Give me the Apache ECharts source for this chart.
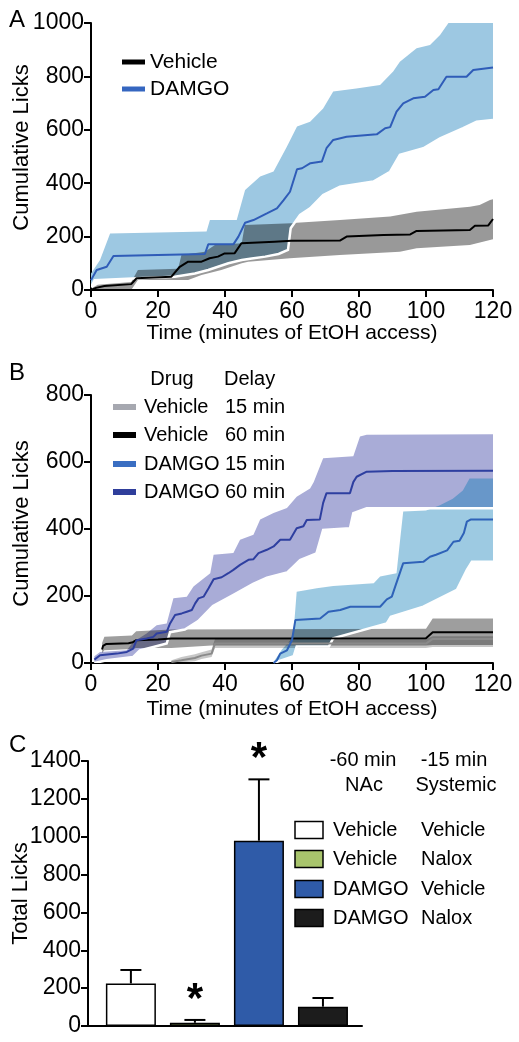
<!DOCTYPE html>
<html><head><meta charset="utf-8">
<script src="https://cdn.jsdelivr.net/npm/echarts@6/dist/echarts.min.js"></script>
<style>html,body{margin:0;padding:0;background:#fff}#c{width:519px;height:1042px}</style>
</head><body><div id="c"></div>
<script>
// ---------- Panel A (time in minutes, cumulative licks) ----------
const aDamgoMean = [[0,37],[1.7,75],[4.7,87],[6.7,127],[20,131],[34,135],[35,171],[42.5,171],[44,200],[46,252],[48.5,262],[52.5,287],[55.5,306],[57.5,337],[59.4,368],[61.5,452],[63,456],[65.5,475],[68.9,481],[70.3,531],[72.3,562],[76.3,574],[85.3,583],[87.8,606],[89.3,610],[91.2,668],[93.2,699],[96.2,718],[99.7,724],[102.2,749],[103.7,752],[106.1,799],[112.1,799],[114.1,824],[120,833]];
const aDamgoUpper = [[0,62],[2.7,112],[5.7,212],[34.5,219],[35.5,262],[43.5,262],[46,375],[50.5,425],[54.5,444],[58.5,537],[61.5,612],[65.4,630],[69.3,680],[72.3,743],[79.2,755],[86.3,768],[90.2,818],[92.2,855],[97.2,905],[101.2,918],[104.2,955],[106.7,1000],[120,1000]];
const aDamgoLower = [[0,10],[1.1,37],[14,44],[25,50],[31,62],[35,75],[41,100],[45,112],[48,118],[52,125],[56,135],[58.8,150],[59.6,231],[62.4,281],[65.4,306],[69.3,356],[74.3,387],[84.3,406],[89.3,443],[92.2,506],[99.2,531],[104.2,568],[111.1,606],[115.1,630],[120,637]];
const aVehMean = [[0,0],[1.5,8],[4,15],[12,22],[13.6,44],[24,50],[26.5,87],[29,106],[33,106],[35.4,119],[37.9,125],[39.9,137],[42.9,138],[44.9,175],[54.8,181],[59.8,184],[74.3,185],[76.3,200],[87.3,206],[95.3,208],[97.2,221],[113.1,225],[114.6,241],[118.6,242],[120,266]];
const aVehUpper = [[0,5],[2,20],[12,30],[14,75],[26,80],[27,131],[34,143],[37,169],[45,175],[45.9,243],[59.8,250],[61.4,252],[74.3,262],[89.3,275],[97.2,293],[113.1,312],[116,318],[119.1,337],[120,340]];
const aVehLower = [[0,0],[12,0],[14,37],[29,37],[33,56],[38.9,75],[45,100],[46.9,106],[59.4,119],[74.3,131],[92.2,143],[97.2,156],[113.1,169],[119.1,187],[120,190]];

// ---------- Panel B ----------
const bD60Mean = [[1,10],[2.7,23],[7.7,28],[10.7,33],[12.6,43],[13.6,68],[16.6,73],[18.6,78],[19.6,88],[22.6,93],[23.6,118],[25.1,143],[27.1,148],[28.6,153],[30.1,158],[31.1,178],[32.1,193],[33.6,198],[35.1,223],[36.6,250],[39,256],[41,268],[42.5,278],[44.5,293],[47,308],[48.5,310],[50,328],[52.5,338],[54.5,348],[56.5,368],[59.4,368],[61.4,402],[63.4,408],[64.4,427],[68.3,428],[69.3,478],[70.3,507],[77.3,507],[78.3,540],[79.3,556],[82.3,571],[90,573],[120,574]];
const bD60Upper = [[1,20],[2.7,33],[10.7,38],[12.6,63],[16.6,88],[19.6,113],[22.6,118],[24.6,193],[28.6,198],[30.6,228],[35.6,268],[36.6,323],[42.5,328],[44.5,368],[48.5,383],[50.5,428],[54.5,448],[58.5,463],[61.4,496],[65.4,521],[66.5,540],[69.3,611],[78.3,617],[80.3,676],[82.3,681],[120,683]];
const bD60Lower = [[1,0],[4.7,8],[12.6,18],[14.6,38],[18.6,48],[22.6,58],[23.6,92],[28,100],[32,125],[36.4,170],[42.4,203],[48.4,236],[52.5,255],[58.5,270],[60.3,287],[62.4,307],[67.3,327],[69.3,397],[77.3,402],[78.3,447],[82.3,462],[120,462]];
const bD15Mean = [[54.5,0],[55.5,8],[56.5,28],[58.5,38],[60,68],[61,128],[68.4,133],[70.9,153],[74.4,158],[77.4,168],[86.3,168],[88.3,190],[89.8,198],[90.8,228],[93.2,298],[99.2,302],[101.2,317],[103,323],[106.3,336],[108.2,362],[110,365],[111.3,388],[112.2,422],[113.3,428],[120,428]];
const bD15Upper = [[54.5,3],[57,40],[59.5,68],[60.5,98],[61.4,213],[67.4,223],[72.3,230],[84.4,238],[86.3,258],[91.2,268],[92.3,370],[93.2,452],[100,455],[104,470],[108,490],[111,515],[113,551],[120,551]];
const bD15Lower = [[54.5,0],[60.5,20],[61.4,49],[71,49],[72.3,74],[88.3,118],[89.5,138],[99.2,168],[109.2,218],[112.2,278],[113.7,302],[120,302]];
const bV60Mean = [[3.3,40],[3.6,51],[4.6,57],[11.2,59],[12.5,62],[13.5,68],[20,70],[24,73],[100,74],[102,92],[120,92]];
const bV60Upper = [[3.3,60],[4,78],[12.2,82],[13.5,95],[24,100],[100,102],[102,133],[120,133]];
const bV60Lower = [[3.3,30],[4,38],[12.2,42],[13.5,45],[24,45],[36,52],[100,52],[102,54],[120,54]];
const bV15Mean = [[24,3],[27,8],[31,15],[33,22],[36,28],[37,58],[100,58],[102,72],[120,72]];
const bV15Upper = [[24,8],[27,18],[31,26],[33,32],[36,40],[37,72],[100,72],[102,80],[120,80]];
const bV15Lower = [[24,0],[27,2],[31,5],[33,12],[36,18],[37,45],[100,45],[102,48],[120,48]];

// ---------- Panel C ----------
const cGroups = ['Vehicle / Vehicle','Vehicle / Nalox','DAMGO / Vehicle','DAMGO / Nalox'];
const cPos = [1,2,3,4];
const cMeans = [225,17,979,102];
const cErrTop = [296,32,1303,148];
const cSig = [false,true,true,false];

const cColors = ['#ffffff','#a8c46c','#2f5ba8','#1c1c1c'];
const FONT = 'Liberation Sans, Arial, Helvetica, sans-serif';

function band(xi, upper, lower, fill, z){
  return {type:'custom', xAxisIndex:xi, yAxisIndex:xi, data:[[0,0]], z:z, clip:true, silent:true,
    renderItem:function(params, api){
      const pts = upper.map(p=>api.coord(p)).concat(lower.slice().reverse().map(p=>api.coord(p)));
      return {type:'polygon', shape:{points:pts}, style:{fill:fill}};
    }};
}
function edge(xi, pts, z){
  return {type:'custom', xAxisIndex:xi, yAxisIndex:xi, data:[[0,0]], z:z, clip:true, silent:true,
    renderItem:function(params, api){
      return {type:'polyline', shape:{points:pts.map(p=>api.coord(p))}, style:{stroke:'#fff', lineWidth:2.5, fill:null}};
    }};
}
function line(xi, data, color, z){
  return {type:'line', xAxisIndex:xi, yAxisIndex:xi, data:data, showSymbol:false, z:z, silent:true,
    lineStyle:{color:color, width:2}, itemStyle:{color:color}, animation:false};
}
function yAx(gi, max, name, pad, gap){
  return {type:'value', gridIndex:gi, min:0, max:max, interval:200,
    name:name, nameLocation:'middle', nameGap:gap, nameMoveOverlap:false,
    nameTextStyle:{fontSize:22, color:'#000', fontFamily:FONT, padding:[0,0,0,pad]},
    axisLine:{show:true, lineStyle:{color:'#000', width:2}},
    axisTick:{show:true, length:7, lineStyle:{color:'#000', width:2}},
    axisLabel:{fontSize:23, color:'#000', margin:7, fontFamily:FONT, formatter:v=>String(v)},
    splitLine:{show:false}};
}
function xAx(gi, gap){
  return {type:'value', gridIndex:gi, min:0, max:120, interval:20,
    name:'Time (minutes of EtOH access)', nameLocation:'middle', nameGap:gap, nameMoveOverlap:false,
    nameTextStyle:{fontSize:21, color:'#000', fontFamily:FONT},
    axisLine:{show:true, onZero:false, lineStyle:{color:'#000', width:2}},
    axisTick:{show:true, length:7, lineStyle:{color:'#000', width:2}},
    axisLabel:{fontSize:23, color:'#000', margin:10, fontFamily:FONT, formatter:v=>String(v)},
    splitLine:{show:false}};
}
function txt(x,y,s,opt){
  return {type:'text', x:x, y:y, style:Object.assign({text:s, fill:'#000', font:'20px '+FONT, textVerticalAlign:'middle'}, opt||{})};
}
function rect(x,y,w,h,fill,stroke){
  return {type:'rect', shape:{x:x,y:y,width:w,height:h}, style:{fill:fill, stroke:stroke||null, lineWidth:stroke?1.5:0}};
}

const chart = echarts.init(document.getElementById('c'), null, {renderer:'canvas'});
const graphics = [
  txt(9,20,'A',{font:'24px '+FONT}), txt(9,373,'B',{font:'24px '+FONT}), txt(9,745,'C',{font:'24px '+FONT}),
  rect(122,59.5,23,5,'#000'), txt(150,62,'Vehicle',{font:'21px '+FONT}),
  rect(122,86.5,23,5,'#3566c0'), txt(150,89,'DAMGO',{font:'21px '+FONT}),
  txt(172,379,'Drug',{textAlign:'center'}), txt(224,379,'Delay'),
  rect(113,404,23,6,'#a6a8b0'), txt(144,407,'Vehicle'), txt(225,407,'15 min'),
  rect(113,432,23,6,'#000'), txt(144,435,'Vehicle'), txt(225,435,'60 min'),
  rect(113,461,23,6,'#3a6ec2'), txt(144,464,'DAMGO'), txt(225,464,'15 min'),
  rect(113,489,23,6,'#2f3e9b'), txt(144,492,'DAMGO'), txt(225,492,'60 min'),
  txt(363,760,'-60 min',{textAlign:'center'}), txt(364,785,'NAc',{textAlign:'center'}),
  txt(454,760,'-15 min',{textAlign:'center'}), txt(456,785,'Systemic',{textAlign:'center'}),
  rect(295,821.5,28,17,cColors[0],'#000'), txt(333,830,'Vehicle'), txt(421,830,'Vehicle'),
  rect(295,850.5,28,17,cColors[1],'#000'), txt(333,859,'Vehicle'), txt(421,859,'Nalox'),
  rect(295,880.5,28,17,cColors[2],'#000'), txt(333,889,'DAMGO'), txt(421,889,'Vehicle'),
  rect(295,909.5,28,17,cColors[3],'#000'), txt(333,918,'DAMGO'), txt(421,918,'Nalox')
];

const option = {
  animation:false,
  backgroundColor:'#fff',
  textStyle:{fontFamily:FONT},
  grid:[
    {left:91, top:23, width:402, height:267, outerBoundsMode:'none', containLabel:false},
    {left:91, top:395, width:402, height:268, outerBoundsMode:'none', containLabel:false},
    {left:88, top:761, width:274, height:265, outerBoundsMode:'none', containLabel:false}
  ],
  xAxis:[ xAx(0,33), xAx(1,36),
    {type:'value', gridIndex:2, min:0.33, max:4.61, axisLine:{show:true, onZero:false, lineStyle:{color:'#000', width:2}},
     axisTick:{show:false}, axisLabel:{show:false}, splitLine:{show:false}} ],
  yAxis:[ yAx(0,1000,'Cumulative Licks',18,58), yAx(1,800,'Cumulative Licks',11,58), yAx(2,1400,'Total Licks',0,56) ],
  graphic: graphics,
  series:[
    band(0, aDamgoUpper, aDamgoLower, '#9dc8e2', 1),
    band(0, aVehUpper, aVehLower, 'rgba(0,0,0,0.4)', 2),
    edge(0, aDamgoLower, 3),
    line(0, aVehMean, '#000', 5),
    line(0, aDamgoMean, '#2f5cb8', 6),

    band(1, bD60Upper, bD60Lower, '#a9acd7', 1),
    band(1, bD15Upper, bD15Lower, 'rgba(0,117,179,0.384)', 2),
    band(1, bV15Upper, bV15Lower, 'rgba(0,0,0,0.22)', 3),
    band(1, bV60Upper, bV60Lower, 'rgba(0,0,0,0.38)', 3),
    edge(1, bD60Lower, 4),
    edge(1, bD15Lower, 4),
    line(1, bV15Mean, '#8a8a8a', 5),
    line(1, bV60Mean, '#000', 5),
    line(1, bD15Mean, '#2f62b8', 6),
    line(1, bD60Mean, '#2e3fa0', 6),

    {type:'bar', xAxisIndex:2, yAxisIndex:2, barWidth:50, z:3, silent:true,
     data: cPos.map((x,i)=>({value:[x,cMeans[i]], itemStyle:{color:cColors[i], borderColor:'#000', borderWidth:1.5}}))},
    {type:'custom', xAxisIndex:2, yAxisIndex:2, z:4, silent:true,
     data: cPos.map((x,i)=>[x,cMeans[i],cErrTop[i],cSig[i]?1:0]),
     renderItem:function(params, api){
       const x = api.value(0), m = api.value(1), e = api.value(2);
       const p0 = api.coord([x,m]), p1 = api.coord([x,e]);
       const kids = [
         {type:'line', shape:{x1:p0[0],y1:p0[1],x2:p1[0],y2:p1[1]}, style:{stroke:'#000', lineWidth:2}},
         {type:'line', shape:{x1:p1[0]-10.5,y1:p1[1],x2:p1[0]+10.5,y2:p1[1]}, style:{stroke:'#000', lineWidth:2}}
       ];
       if (api.value(3)) kids.push({type:'text', x:p1[0], y:p1[1]+1, style:{text:'*', font:'bold 42px '+FONT, fill:'#000', textAlign:'center', textVerticalAlign:'bottom'}});
       return {type:'group', children:kids};
     }}
  ]
};
chart.setOption(option);
</script></body></html>
